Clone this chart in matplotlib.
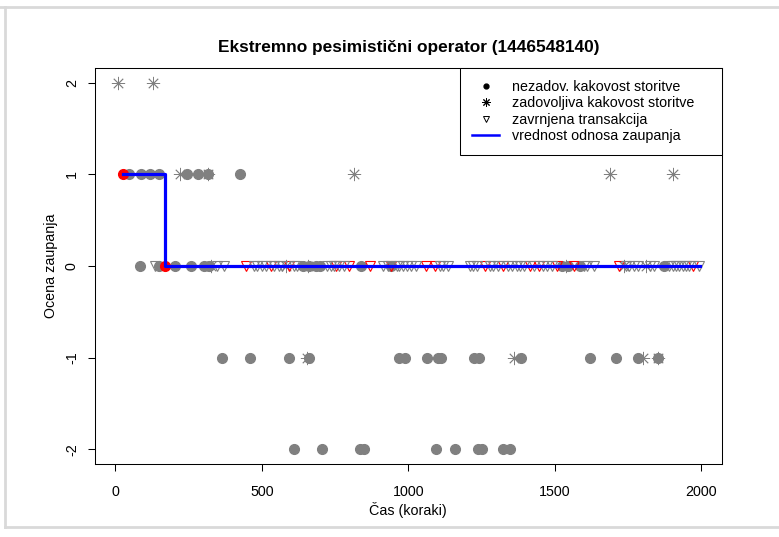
import matplotlib
import matplotlib.pyplot as plt
from matplotlib.lines import Line2D

matplotlib.use('Agg')

plt.rcParams['font.family'] = ['Liberation Sans', 'DejaVu Sans']

# unsatisfactory quality of service (gray dots)
unsat_x = [48, 88, 118, 150, 245, 281, 316, 424,
           85, 150, 205, 258, 302, 319, 640, 662, 684, 700, 840, 942, 1526, 1547, 1588, 1874,
           363, 460, 593, 660, 969, 990, 1064, 1100, 1112, 1225, 1240, 1385, 1622, 1711, 1784, 1853,
           609, 705, 835, 848, 1094, 1159, 1238, 1252, 1324, 1347]
unsat_y = [1] * 8 + [0] * 16 + [-1] * 16 + [-2] * 10

# satisfactory quality of service (asterisks)
sat_x = [8, 128,
         219, 316, 815, 1689, 1903,
         325, 582, 656, 1540, 1737, 1811,
         654, 1362, 1801, 1853]
sat_y = [2] * 2 + [1] * 5 + [0] * 6 + [-1] * 4

# rejected transactions (triangles at 0)
rej_gray_x = [136, 348, 370, 473, 485, 502, 515, 540, 559, 570, 610, 621, 724, 735, 745,
              765, 780, 913, 930, 960, 970, 981, 995, 1011, 1025, 1108, 1120, 1136, 1211,
              1222, 1234, 1280, 1291, 1305, 1342, 1355, 1371, 1382, 1394, 1430, 1461, 1475,
              1491, 1600, 1611, 1634, 1745, 1754, 1770, 1783, 1825, 1840, 1890, 1903, 1915,
              1926, 1938, 1949, 1960, 1992]
rej_red_x = [445, 531, 593, 754, 799, 870, 942, 1062, 1091, 1262, 1325, 1417, 1445,
             1508, 1565, 1720, 1972]

# trust value (step line) and its change points
trust_x = [25, 168, 168, 1995]
trust_y = [1, 1, 0, 0]
change_x = [25, 168]
change_y = [1, 0]

gray = '#808080'
fs = 10.3

fig = plt.figure(figsize=(7.79, 5.37), dpi=100)
ax = fig.add_axes([94.5 / 779, 1 - 464 / 537, (722 - 94.5) / 779, (464 - 68) / 537])

ax.plot(unsat_x, unsat_y, 'o', color=gray, markersize=7, linestyle='none')
ax.plot(sat_x, sat_y, linestyle='none', marker=(8, 2, 0), color=gray,
        markersize=9.5, markeredgewidth=0.6)
ax.plot(rej_red_x, [0] * len(rej_red_x), 'v', markerfacecolor='none',
        markeredgecolor='red', markersize=7.5, markeredgewidth=0.8, linestyle='none')
ax.plot(rej_gray_x, [0] * len(rej_gray_x), 'v', markerfacecolor='none',
        markeredgecolor=gray, markersize=7.5, markeredgewidth=0.8, linestyle='none')
ax.plot(change_x, change_y, 'o', color='red', markersize=7, linestyle='none')
ax.plot(trust_x, trust_y, color='blue', linewidth=2.3)

# R-like axis padding (4%)
all_x = unsat_x + sat_x + rej_gray_x + rej_red_x
xmin, xmax = min(all_x), max(all_x)
pad = 0.04 * (xmax - xmin)
ax.set_xlim(xmin - pad, xmax + pad)
ax.set_ylim(-2 - 0.16, 2 + 0.16)

ax.set_xticks([0, 500, 1000, 1500, 2000])
ax.set_yticks([-2, -1, 0, 1, 2])
ax.set_yticklabels(['-2', '-1', '0', '1', '2'], rotation=90, va='center')
ax.tick_params(length=5.2, width=0.75, labelsize=fs)
ax.tick_params(axis='x', pad=10)
ax.tick_params(axis='y', pad=6)
for s in ax.spines.values():
    s.set_linewidth(0.75)

ax.set_xlabel('Čas (koraki)', fontsize=fs, labelpad=2)
ax.set_ylabel('Ocena zaupanja', fontsize=fs, labelpad=5)
ax.set_title('Ekstremno pesimistični operator (1446548140)', fontsize=12.4,
             fontweight='bold', pad=11.5)

handles = [
    Line2D([], [], marker='o', color='black', linestyle='none', markersize=3.5),
    Line2D([], [], marker=(8, 2, 0), color='black', linestyle='none', markersize=6,
           markeredgewidth=0.7),
    Line2D([], [], marker='v', markerfacecolor='none', markeredgecolor='black',
           linestyle='none', markersize=5, markeredgewidth=0.7),
    Line2D([], [], color='blue', linewidth=1.8),
]
labels = ['nezadov. kakovost storitve', 'zadovoljiva kakovost storitve',
          'zavrnjena transakcija', 'vrednost odnosa zaupanja']
leg = ax.legend(handles, labels, loc='upper left', bbox_to_anchor=(0.5825, 0, 0.4175, 1.0),
                mode='expand', borderaxespad=0, fontsize=fs, frameon=True,
                fancybox=False, edgecolor='black', framealpha=1, borderpad=0.85,
                handlelength=1.9, handletextpad=0.9, labelspacing=0.16)
leg.get_frame().set_linewidth(0.75)

# light gray frame around the picture
for xs, ys in [((0, 1), (1 - 7 / 537, 1 - 7 / 537)),
               ((5 / 779, 5 / 779), (1 - 7 / 537, 1 - 527 / 537)),
               ((5 / 779, 1), (1 - 527 / 537, 1 - 527 / 537))]:
    fig.add_artist(Line2D(xs, ys, color='#d9d9d9', linewidth=2, transform=fig.transFigure))

fig.savefig('out.png', dpi=100)
